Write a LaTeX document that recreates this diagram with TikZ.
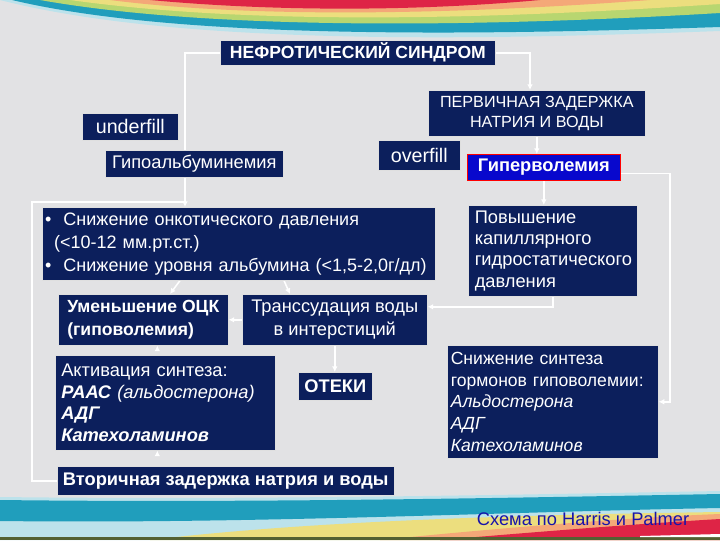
\documentclass[tikz,border=0pt]{standalone}
\usepackage{fontspec}
\setmainfont{Liberation Sans}
\usetikzlibrary{arrows.meta,calc}
\definecolor{navy}{RGB}{12,31,92}
\definecolor{hyperblue}{RGB}{8,8,205}
\definecolor{slidebg}{RGB}{226,226,228}
\definecolor{swteal}{RGB}{32,158,188}
\definecolor{swgreen}{RGB}{184,214,112}
\definecolor{swyellow}{RGB}{236,222,126}
\definecolor{sworange}{RGB}{244,168,120}
\definecolor{swred}{RGB}{222,36,70}
\definecolor{capblue}{RGB}{24,20,170}
\pgfdeclarelayer{bg}
\pgfdeclarelayer{lines}
\pgfsetlayers{bg,lines,main}
\begin{document}
\begin{tikzpicture}[
        x                 = 0.025cm,
        y                 = -0.025cm,
        box/.style        = {draw=white!75!gray, line width=0.4pt, fill=navy, text=white,
                             anchor=north west, inner xsep=4pt, inner ysep=1pt,
                             font=\fontsize{13}{16}\selectfont},
        line/.style       = {draw=white, line width=1.1pt},
        arr/.style        = {line, -{Latex[length=4pt,width=4pt]}},
    ]
    \useasboundingbox (0,0) rectangle (720,540);

    % slide background
    \begin{pgfonlayer}{bg}
        \fill[slidebg] (0,0) rectangle (720,540);
        \fill[white!70!swteal] (0,0) .. controls (180,46) and (480,40) .. (720,31) -- (720,0) -- cycle;
        \fill[swteal] (12,0) .. controls (180,40) and (480,35) .. (720,27) -- (720,0) -- cycle;
        \fill[swgreen] (40,0) .. controls (220,32) and (500,26) .. (720,13) -- (720,0) -- cycle;
        \fill[swyellow] (70,0) .. controls (250,25) and (480,20) .. (720,4) -- (720,0) -- cycle;
        \fill[sworange] (110,0) .. controls (250,18) and (450,15) .. (650,0) -- cycle;
        \fill[swred] (150,0) .. controls (280,12) and (420,11) .. (540,0) -- cycle;
        \fill[swgreen] (0,505) rectangle (720,540);
        \fill[white!70!swteal] (0,497) .. controls (250,500) and (500,495) .. (720,491)
            -- (720,540) -- (0,540) -- cycle;
        \fill[swteal] (0,500) .. controls (250,503) and (500,498) .. (720,494)
            -- (720,508) .. controls (500,512) and (250,524) .. (0,521) -- cycle;
        \fill[swyellow] (150,540) .. controls (300,522) and (500,515) .. (720,512) -- (720,540) -- cycle;
        \fill[sworange] (380,540) .. controls (520,526) and (640,517) .. (720,514) -- (720,540) -- cycle;
        \fill[swred] (440,540) .. controls (560,530) and (650,523) .. (720,519) -- (720,540) -- cycle;
        \fill[black!55!swgreen] (0,537) rectangle (720,540);
        \fill[white] (640,536) .. controls (680,535) .. (720,534) -- (720,537) -- (640,537) -- cycle;
    \end{pgfonlayer}

    \node[box, minimum width=6.875cm, minimum height=0.625cm, font=\fontsize{12.5}{15}\selectfont\bfseries]
        (title) at (220,40) {НЕФРОТИЧЕСКИЙ СИНДРОМ};
    \node[box, minimum width=5.425cm, minimum height=1.15cm, align=center, font=\fontsize{11.5}{14}\selectfont]
        (perv) at (428,90) {ПЕРВИЧНАЯ ЗАДЕРЖКА\\НАТРИЯ И ВОДЫ};
    \node[box, minimum width=2.4cm, minimum height=0.675cm, font=\fontsize{14}{16}\selectfont]
        (under) at (82,113) {underfill};
    \node[box, minimum width=4.45cm, minimum height=0.675cm]
        (hypoalb) at (105,150) {Гипоальбуминемия};
    \node[box, minimum width=2.05cm, minimum height=0.75cm, font=\fontsize{14}{16}\selectfont]
        (over) at (378,140) {overfill};
    \node[box, draw=red, fill=hyperblue, minimum width=3.825cm, minimum height=0.65cm,
          font=\fontsize{13}{16}\selectfont\bfseries]
        (hyper) at (467,154) {Гиперволемия};
    \node[box, minimum width=9.825cm, minimum height=1.825cm, inner xsep=2pt, text width=9.68cm,
          align=left, font=\fontsize{12.8}{16.3}\selectfont]
        (onc) at (42,207) {\textbullet\ \ Снижение онкотического давления\\
        \hspace*{0.5em}(<10-12 мм.рт.ст.)\\
        \textbullet\ \ Снижение уровня альбумина (<1,5-2,0г/дл)};
    \node[box, minimum width=4.225cm, minimum height=2.275cm, text width=3.9cm, align=left,
          font=\fontsize{13}{15.2}\selectfont]
        (povysh) at (468,205) {Повышение\\капиллярного\\гидростатического\\давления};
    \node[box, minimum width=4.25cm, minimum height=1.275cm, align=left,
          font=\fontsize{12.5}{16}\selectfont\bfseries]
        (umen) at (58,294) {Уменьшение ОЦК\\(гиповолемия)};
    \node[box, minimum width=4.625cm, minimum height=1.275cm, align=center]
        (trans) at (242,294) {Транссудация воды\\в интерстиций};
    \node[box, minimum width=5.5cm, minimum height=2.375cm, text width=5.2cm, align=left,
          font=\fontsize{13}{15.2}\selectfont]
        (activ) at (55,355) {Активация синтеза:\\
        \textbf{\textit{РААС}} \textit{(альдостерона)}\\
        \textbf{\textit{АДГ}}\\
        \textbf{\textit{Катехоламинов}}};
    \node[box, minimum width=1.85cm, minimum height=0.7cm, font=\fontsize{13}{16}\selectfont\bfseries]
        (oteki) at (298,372) {ОТЕКИ};
    \node[box, minimum width=5.275cm, minimum height=2.825cm, inner xsep=2pt, text width=5.1cm,
          align=left, font=\fontsize{12.5}{15.4}\selectfont]
        (snizh) at (447,345) {Снижение синтеза\\гормонов гиповолемии:\\
        \textit{Альдостерона}\\\textit{АДГ}\\\textit{Катехоламинов}};
    \node[box, minimum width=8.4cm, minimum height=0.725cm, font=\fontsize{13}{16}\selectfont\bfseries]
        (vtor) at (57,466) {Вторичная задержка натрия и воды};
    \node[text=capblue, font=\fontsize{13}{16}\selectfont]
        (cap) at (583,519) {Схема по Harris и Palmer};

    % connectors
    \begin{pgfonlayer}{lines}
        \coordinate (join) at (185,202);
        \draw[arr] (title.west) -| (join) -- (join |- onc.north);
        \draw[line] (vtor.west) -| (32,0 |- join) -- (join);
        \draw[arr] (title.east) -| (530,0 |- perv.north);
        \draw[arr] (perv.south) -- (perv.south |- hyper.north);
        \draw[arr] (hyper.south) -- (hyper.south |- povysh.north);
        \draw[arr] ($(hyper.east)+(0,6)$) -| (670,0 |- snizh.east) -- (snizh.east);
        \draw[arr] (povysh.south) |- ($(trans.east)+(0,-13)$);
        \draw[arr] ($(onc.south west)+(138,0)$) -- ($(umen.north west)+(112,0)$);
        \draw[arr] ($(onc.south west)+(242,0)$) -- ($(trans.north west)+(48,0)$);
        \draw[arr] (trans.west) -- (umen.east);
        \draw[arr] ($(umen.south)+(14,0)$) -- ($(umen.south)+(14,0)$ |- activ.north);
        \draw[arr] (trans.south) -- (trans.south |- oteki.north);
        \draw[arr] ($(activ.south)+(-8,0)$) -- ($(activ.south)+(-8,0)$ |- vtor.north);
    \end{pgfonlayer}
\end{tikzpicture}
\end{document}
